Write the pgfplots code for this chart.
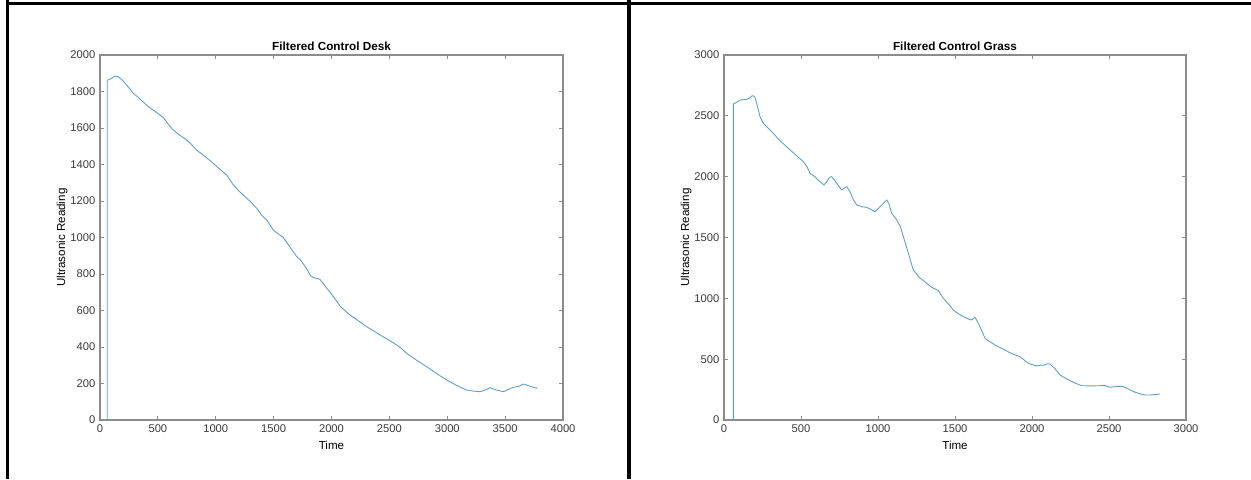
\documentclass[border=0pt]{standalone}
\usepackage{pgfplots}
\pgfplotsset{compat=1.18}
\usepackage{fontspec}
\setmainfont{Liberation Sans}
\definecolor{linec}{RGB}{92,158,200}
\definecolor{axc}{RGB}{140,140,140}
\definecolor{tlc}{RGB}{60,60,60}
\pgfplotsset{
  mstyle/.style={
    scale only axis, width=347.25pt, height=273.75pt,
    axis line style={axc, line width=0.8pt},
    major tick style={axc, line width=0.6pt},
    major tick length=3pt,
    tick align=inside,
    ticklabel style={font=\fontsize{8.4}{10}\selectfont, text=tlc},
    /pgf/number format/assume math mode=true,
    /pgf/number format/set thousands separator={},
    label style={font=\fontsize{8.7}{10}\selectfont},
    every axis title shift=0pt,
    title style={font=\fontsize{8.8}{10}\selectfont\bfseries, at={(axis description cs:0.5,1.0228)}, anchor=center},
    xlabel style={at={(axis description cs:0.5,-0.0685)}, anchor=center},
    ylabel style={at={(axis description cs:-0.082,0.5)}, anchor=center, rotate=0},
    xlabel={Time}, ylabel={Ultrasonic Reading},
    xtick pos=both, ytick pos=both,
    xticklabel pos=lower, yticklabel pos=left,
  }
}
\begin{document}
\begin{tikzpicture}[x=0.75pt,y=0.75pt]
\useasboundingbox (0,0) rectangle (1251,479);
\fill[white] (0,0) rectangle (1251,479);
\fill[black] (6,479) rectangle (9,0);
\fill[black] (6,479-1.7) rectangle (1251,479-5);
\fill[black] (627,479) rectangle (631,0);
\begin{axis}[mstyle, at={(75pt,44.25pt)}, anchor=south west,
  xmin=0, xmax=4000, ymin=0, ymax=2000,
  xtick={0,500,...,4000}, ytick={0,200,...,2000},
  title={Filtered Control Desk}]
\addplot[linec, line width=0.65pt] coordinates {
(63,0) (63,1862) (80,1866) (100,1872) (130,1885) (160,1880) (200,1858) (250,1820) (288,1790) (330,1768) (380,1738) (420,1716) (461,1698) (500,1680) (547,1658) (590,1620) (633,1589) (690,1560) (749,1534) (790,1510) (835,1479) (900,1448) (979,1406) (1040,1372) (1094,1342) (1150,1290) (1200,1255) (1238,1233) (1300,1196) (1354,1160) (1400,1120) (1440,1096) (1497,1041) (1540,1020) (1584,1000) (1650,940) (1700,895) (1728,880) (1780,835) (1820,790) (1843,780) (1880,775) (1900,771) (1950,730) (2016,676) (2080,620) (2160,575) (2230,545) (2304,511) (2360,490) (2419,466) (2490,440) (2563,411) (2600,395) (2649,365) (2730,330) (2822,292) (2900,258) (2995,219) (3080,190) (3168,164) (3230,158) (3283,155) (3330,165) (3369,177) (3420,165) (3484,155) (3530,168) (3571,179) (3620,185) (3657,197) (3700,188) (3740,180) (3772,174) (3780,176)
};
\end{axis}
\begin{axis}[mstyle, at={(543pt,44.25pt)}, anchor=south west, width=346.5pt,
  xmin=0, xmax=3000, ymin=0, ymax=3000,
  xtick={0,500,...,3000}, ytick={0,500,...,3000},
  title={Filtered Control Grass}]
\addplot[linec, line width=0.65pt] coordinates {
(61,0) (61,2597) (80,2610) (104,2630) (125,2632) (147,2636) (165,2645) (180,2663) (192,2665) (201,2652) (215,2590) (234,2493) (255,2439) (285,2400) (320,2356) (360,2300) (407,2246) (460,2185) (515,2123) (540,2080) (558,2028) (590,2000) (623,1959) (649,1932) (667,1959) (685,1995) (699,2000) (715,1975) (732,1945) (764,1890) (780,1905) (797,1918) (818,1877) (840,1810) (862,1767) (900,1752) (927,1748) (955,1730) (981,1712) (1000,1735) (1024,1767) (1057,1808) (1070,1780) (1089,1699) (1122,1644) (1145,1590) (1164,1510) (1195,1380) (1229,1233) (1270,1170) (1316,1124) (1350,1090) (1392,1063) (1424,1000) (1460,950) (1489,904) (1520,875) (1554,849) (1590,828) (1608,822) (1630,844) (1645,810) (1662,767) (1695,671) (1730,640) (1771,608) (1820,578) (1857,553) (1900,530) (1922,520) (1950,492) (1976,466) (2000,455) (2031,444) (2055,452) (2074,450) (2100,462) (2117,460) (2150,420) (2182,370) (2215,345) (2247,323) (2290,298) (2323,282) (2380,280) (2442,282) (2470,285) (2507,269) (2550,276) (2593,274) (2615,262) (2637,247) (2670,228) (2713,211) (2740,205) (2766,205) (2800,210) (2831,214)
};
\end{axis}
\end{tikzpicture}
\end{document}
